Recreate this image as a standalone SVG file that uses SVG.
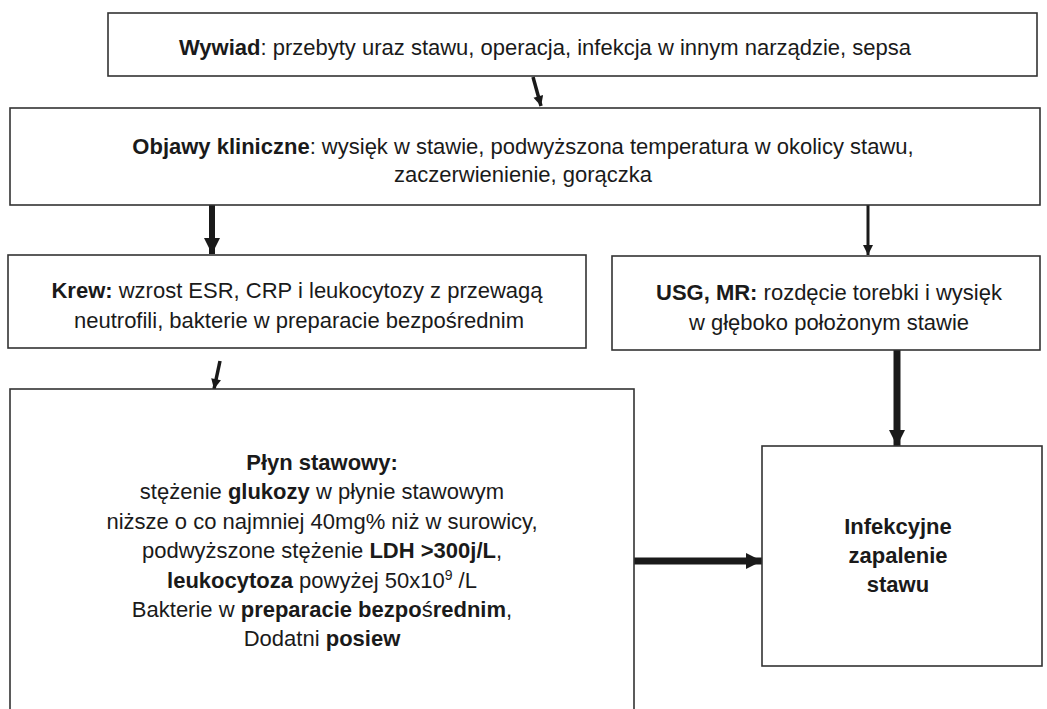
<svg xmlns="http://www.w3.org/2000/svg" width="1047" height="709" viewBox="0 0 1047 709">
<style>
.box{fill:#fff;stroke:#333;stroke-width:1.6}
.t{font-family:"Liberation Sans",Arial,sans-serif;font-size:22px;fill:#1a1a1a;text-anchor:middle}
.b{font-weight:bold}
.c{stroke:#1a1a1a;fill:none;stroke-linecap:butt}
</style>
<defs>
<marker id="hs" markerUnits="userSpaceOnUse" viewBox="0 0 10 10" refX="10" refY="5" markerWidth="11" markerHeight="10" orient="auto"><path d="M0,0 L10,5 L0,10 Z" fill="#1a1a1a"/></marker>
<marker id="hl" markerUnits="userSpaceOnUse" viewBox="0 0 10 10" refX="10" refY="5" markerWidth="17" markerHeight="16" orient="auto"><path d="M0,0 L10,5 L0,10 Z" fill="#1a1a1a"/></marker>
</defs>
<rect width="1047" height="709" fill="#fff"/>
<g id="connectors">
<line class="c" x1="533" y1="77" x2="541" y2="106" stroke-width="3.5" marker-end="url(#hs)"/>
<line class="c" x1="212" y1="205" x2="212" y2="254" stroke-width="6" marker-end="url(#hl)"/>
<line class="c" x1="868" y1="205" x2="868" y2="255" stroke-width="3" marker-end="url(#hs)"/>
<line class="c" x1="220" y1="361" x2="214" y2="389" stroke-width="3.5" marker-end="url(#hs)"/>
<line class="c" x1="897" y1="349" x2="897" y2="446" stroke-width="7" marker-end="url(#hl)"/>
<line class="c" x1="634" y1="561" x2="762" y2="561" stroke-width="7" marker-end="url(#hl)"/>
</g>
<g id="wywiad">
<rect class="box" x="108" y="13" width="929" height="63"/>
<text class="t" x="545" y="55" font-size="23.3"><tspan class="b">Wywiad</tspan>: przebyty uraz stawu, operacja, infekcja w innym narządzie, sepsa</text>
</g>
<g id="objawy">
<rect class="box" x="10" y="108" width="1030" height="97"/>
<text class="t" x="523" y="154" font-size="22.4"><tspan class="b">Objawy kliniczne</tspan>: wysięk w stawie, podwyższona temperatura w okolicy stawu,</text>
<text class="t" x="523" y="182" font-size="22.4">zaczerwienienie, gorączka</text>
</g>
<g id="krew">
<rect class="box" x="8" y="255" width="578" height="93"/>
<text class="t" x="297" y="298" font-size="23.5"><tspan class="b">Krew:</tspan> wzrost ESR, CRP i leukocytozy z przewagą</text>
<text class="t" x="299" y="328" font-size="23.5">neutrofili, bakterie w preparacie bezpośrednim</text>
</g>
<g id="usg">
<rect class="box" x="612" y="256" width="428" height="94"/>
<text class="t" x="829" y="300" font-size="23"><tspan class="b">USG, MR:</tspan> rozdęcie torebki i wysięk</text>
<text class="t" x="829" y="330" font-size="23">w głęboko położonym stawie</text>
</g>
<g id="plyn">
<rect class="box" x="10" y="389" width="624" height="340"/>
<text class="t b" x="322" y="470" font-size="22.3">Płyn stawowy:</text>
<text class="t" x="322" y="499" font-size="22.3">stężenie <tspan class="b">glukozy</tspan> w płynie stawowym</text>
<text class="t" x="322" y="529" font-size="22.3">niższe o co najmniej 40mg% niż w surowicy,</text>
<text class="t" x="322" y="558" font-size="22.3">podwyższone stężenie <tspan class="b">LDH &gt;300j/L</tspan>,</text>
<text class="t" x="322" y="588" font-size="22.3"><tspan class="b">leukocytoza</tspan> powyżej 50x10<tspan font-size="14" dy="-8">9</tspan><tspan dy="8"> /L</tspan></text>
<text class="t" x="322" y="617" font-size="22.3">Bakterie w <tspan class="b">preparacie bezpo</tspan>ś<tspan class="b">rednim</tspan>,</text>
<text class="t" x="322" y="646" font-size="22.3">Dodatni <tspan class="b">posiew</tspan></text>
</g>
<g id="infekcyjne">
<rect class="box" x="762" y="446" width="280" height="220"/>
<text class="t b" x="898" y="534" font-size="22.8">Infekcyjne</text>
<text class="t b" x="898" y="563" font-size="22.8">zapalenie</text>
<text class="t b" x="898" y="592" font-size="22.8">stawu</text>
</g>
</svg>
